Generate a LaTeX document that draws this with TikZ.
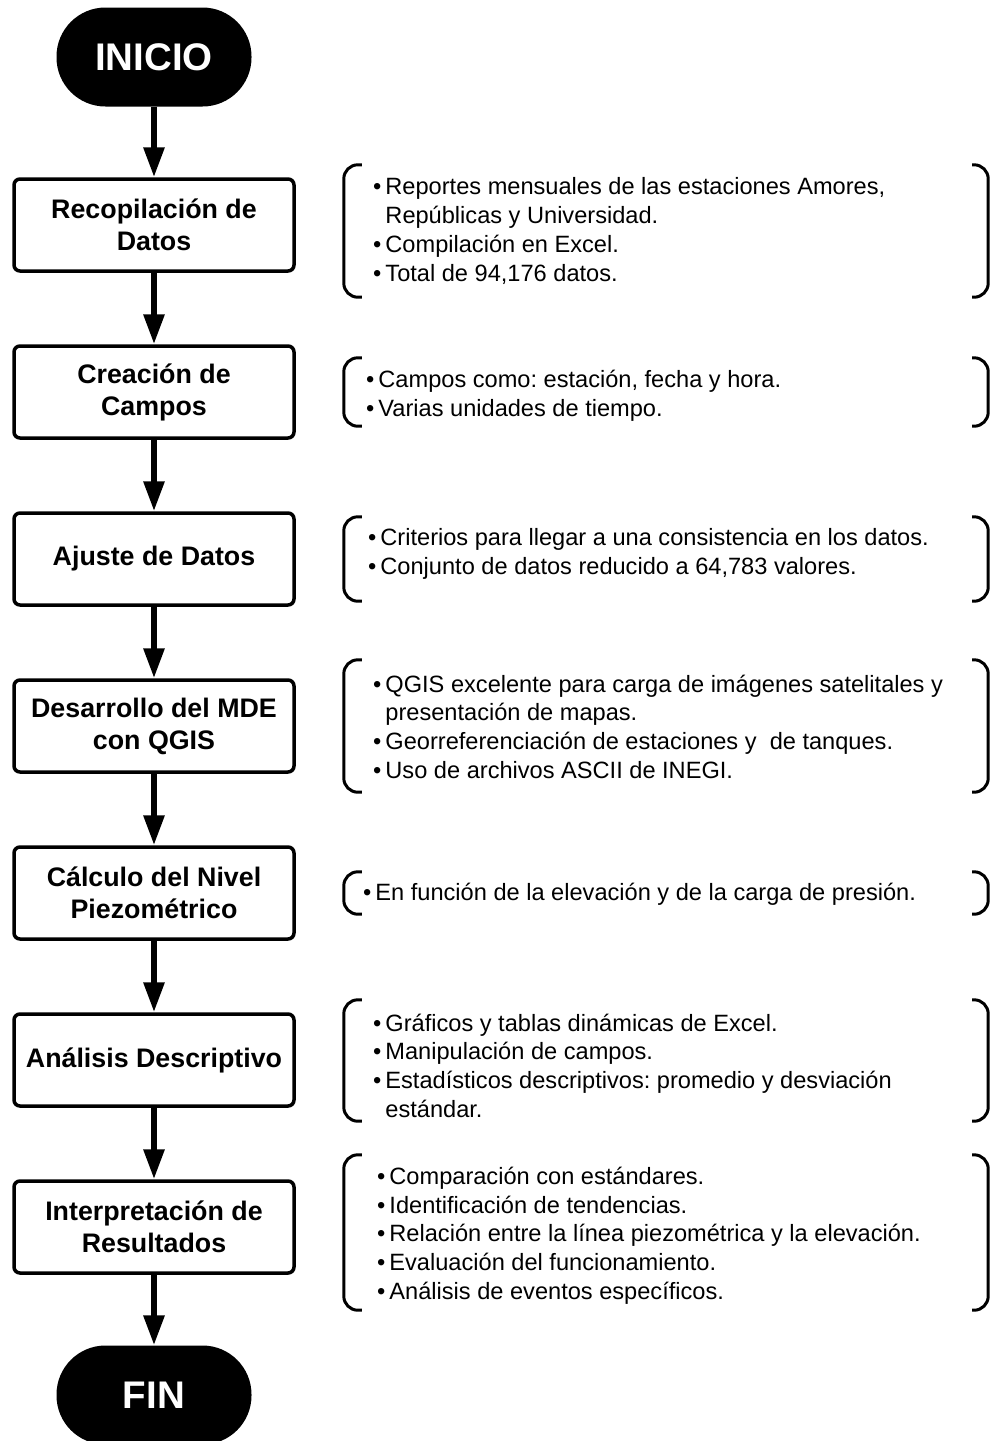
\documentclass[tikz,border=0pt]{standalone}
\usepackage{fontspec}
\setmainfont{Liberation Sans}
\usetikzlibrary{arrows.meta}
\frenchspacing
\tikzset{
  paso/.style={draw, line width=3.5pt, rounded corners=6pt, minimum width=280pt,
    minimum height=92pt, align=center, inner sep=0pt,
    font=\bfseries\fontsize{26.8}{32}\selectfont},
  terminal/.style={fill=black, rounded corners=49pt, minimum width=195pt,
    minimum height=99pt, text=white, font=\bfseries\fontsize{38.5}{40}\selectfont},
  flecha/.style={line width=6pt, -{Triangle[length=30pt,width=20pt]}},
  marco/.style={minimum width=644pt, minimum height=#1, inner sep=0pt},
  corchete/.style={line width=3pt, rounded corners=14pt},
  nota/.style={anchor=west, align=left, inner sep=0pt,
    font=\fontsize{23.6}{28.7}\selectfont},
}
\newcommand{\itm}{\textbullet\hspace{4pt}}
\newcommand{\sgte}{\hphantom{\itm}}
\begin{document}
\begin{tikzpicture}[x=1pt, y=-1pt]
  \useasboundingbox (0,0) rectangle (990,1441);

  % pasos del proceso
  \node[terminal] (inicio) at (154,57) {INICIO};
  \node[paso] (b1) at (154,225) {Recopilación de\\Datos};
  \node[paso] (b2) at (154,392) {Creación de\\Campos};
  \node[paso] (b3) at (154,559) {Ajuste de Datos};
  \node[paso] (b4) at (154,726) {Desarrollo del MDE\\con QGIS};
  \node[paso] (b5) at (154,893) {Cálculo del Nivel\\Piezométrico};
  \node[paso] (b6) at (154,1060) {Análisis Descriptivo};
  \node[paso] (b7) at (154,1227) {Interpretación de\\Resultados};
  \node[terminal] (fin) at (154,1395) {FIN};

  \draw[flecha] (inicio) -- (b1);
  \draw[flecha] (b1) -- (b2);
  \draw[flecha] (b2) -- (b3);
  \draw[flecha] (b3) -- (b4);
  \draw[flecha] (b4) -- (b5);
  \draw[flecha] (b5) -- (b6);
  \draw[flecha] (b6) -- (b7);
  \draw[flecha] (b7) -- (fin);

  % marcos de las notas
  \node[marco=132pt] (m1) at (666,231) {};
  \node[marco=68pt] (m2) at (666,392) {};
  \node[marco=84pt] (m3) at (666,559) {};
  \node[marco=132pt] (m4) at (666,726) {};
  \node[marco=42pt] (m5) at (666,893) {};
  \node[marco=121pt] (m6) at (666,1060.5) {};
  \node[marco=155pt] (m7) at (666,1232.5) {};
  \foreach \m in {1,...,7}{
    \draw[corchete] ([xshift=18pt]m\m.north west) -- (m\m.north west)
      -- (m\m.south west) -- ([xshift=18pt]m\m.south west);
    \draw[corchete] ([xshift=-16pt]m\m.north east) -- (m\m.north east)
      -- (m\m.south east) -- ([xshift=-16pt]m\m.south east);
  }

  % notas
  \node[nota] (n1) at (373,231) {\itm Reportes mensuales de las estaciones Amores,\\
    \sgte Repúblicas y Universidad.\\ \itm Compilación en Excel.\\
    \itm Total de 94,176 datos.};
  \node[nota] (n2) at (366,396) {\itm Campos como: estación, fecha y hora.\\
    \itm Varias unidades de tiempo.};
  \node[nota] (n3) at (368,554) {\itm Criterios para llegar a una consistencia en los datos.\\
    \itm Conjunto de datos reducido a 64,783 valores.};
  \node[nota] (n4) at (373,726.5) {\itm QGIS excelente para carga de imágenes satelitales y\\
    \sgte presentación de mapas.\\ \itm Georreferenciación de estaciones y\ \ de tanques.\\
    \itm Uso de archivos ASCII de INEGI.};
  \node[nota] (n5) at (363,894.5) {\itm En función de la elevación y de la carga de presión.};
  \node[nota] (n6) at (373,1065.5) {\itm Gráficos y tablas dinámicas de Excel.\\
    \itm Manipulación de campos.\\ \itm Estadísticos descriptivos: promedio y desviación\\
    \sgte estándar.};
  \node[nota] (n7) at (377,1235.5) {\itm Comparación con estándares.\\
    \itm Identificación de tendencias.\\
    \itm Relación entre la línea piezométrica y la elevación.\\
    \itm Evaluación del funcionamiento.\\ \itm Análisis de eventos específicos.};
\end{tikzpicture}
\end{document}
